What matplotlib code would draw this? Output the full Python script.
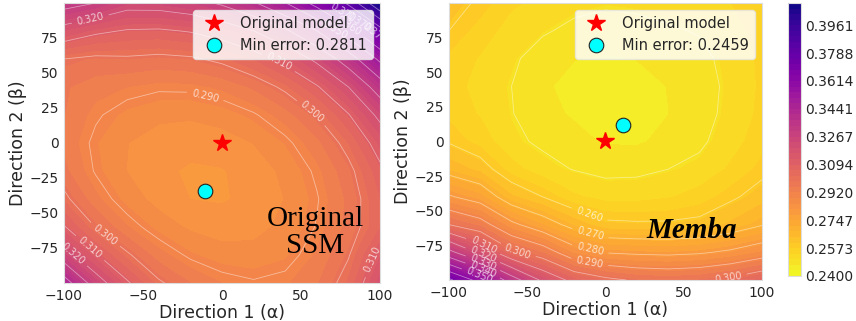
import numpy as np
import matplotlib
import matplotlib.pyplot as plt

matplotlib.use("Agg")

# grid of the two perturbation directions
alpha_vals = [-100, -80, -60, -40, -20, 0, 20, 40, 60, 80, 100]
beta_vals = [-100, -80, -60, -40, -20, 0, 20, 40, 60, 80, 100]

# error surface, one row per beta (bottom to top), one column per alpha
loss_ssm = [
    [0.3448, 0.3250, 0.3110, 0.3010, 0.2955, 0.2920, 0.2905, 0.2915, 0.2950, 0.3030, 0.3180],
    [0.3245, 0.3108, 0.3010, 0.2935, 0.2890, 0.2868, 0.2865, 0.2880, 0.2925, 0.2995, 0.3125],
    [0.3106, 0.2998, 0.2923, 0.2873, 0.2844, 0.2832, 0.2838, 0.2861, 0.2903, 0.2966, 0.3056],
    [0.3016, 0.2930, 0.2872, 0.2836, 0.2816, 0.2813, 0.2825, 0.2852, 0.2896, 0.2963, 0.3057],
    [0.2965, 0.2895, 0.2850, 0.2823, 0.2812, 0.2814, 0.2830, 0.2860, 0.2909, 0.2981, 0.3083],
    [0.2946, 0.2888, 0.2852, 0.2832, 0.2826, 0.2832, 0.2852, 0.2887, 0.2943, 0.3024, 0.3137],
    [0.2956, 0.2907, 0.2876, 0.2860, 0.2857, 0.2868, 0.2894, 0.2937, 0.3002, 0.3095, 0.3223],
    [0.2960, 0.2935, 0.2920, 0.2908, 0.2910, 0.2927, 0.2961, 0.3014, 0.3092, 0.3200, 0.3347],
    [0.3000, 0.2985, 0.2990, 0.2982, 0.2990, 0.3015, 0.3060, 0.3126, 0.3220, 0.3349, 0.3520],
    [0.3160, 0.3116, 0.3093, 0.3089, 0.3105, 0.3141, 0.3199, 0.3283, 0.3398, 0.3551, 0.3751],
    [0.3340, 0.3300, 0.3237, 0.3240, 0.3265, 0.3314, 0.3390, 0.3496, 0.3637, 0.3820, 0.4098],
]

loss_memba = [
    [0.3720, 0.3560, 0.3350, 0.3180, 0.3070, 0.3020, 0.2990, 0.2980, 0.2990, 0.3020, 0.3070],
    [0.3330, 0.3180, 0.3020, 0.2950, 0.2840, 0.2795, 0.2785, 0.2780, 0.2790, 0.2815, 0.2855],
    [0.3000, 0.2940, 0.2820, 0.2745, 0.2670, 0.2615, 0.2610, 0.2610, 0.2618, 0.2650, 0.2695],
    [0.2810, 0.2760, 0.2650, 0.2600, 0.2545, 0.2525, 0.2525, 0.2535, 0.2555, 0.2590, 0.2625],
    [0.2670, 0.2630, 0.2555, 0.2515, 0.2498, 0.2488, 0.2490, 0.2500, 0.2512, 0.2545, 0.2585],
    [0.2595, 0.2560, 0.2510, 0.2492, 0.2476, 0.2467, 0.2466, 0.2476, 0.2492, 0.2522, 0.2560],
    [0.2565, 0.2535, 0.2502, 0.2475, 0.2467, 0.2461, 0.2459, 0.2469, 0.2483, 0.2513, 0.2548],
    [0.2555, 0.2525, 0.2500, 0.2472, 0.2464, 0.2460, 0.2461, 0.2470, 0.2482, 0.2510, 0.2545],
    [0.2565, 0.2535, 0.2508, 0.2480, 0.2470, 0.2467, 0.2470, 0.2478, 0.2490, 0.2512, 0.2547],
    [0.2600, 0.2558, 0.2522, 0.2505, 0.2490, 0.2485, 0.2488, 0.2495, 0.2503, 0.2522, 0.2555],
    [0.2625, 0.2590, 0.2545, 0.2528, 0.2512, 0.2505, 0.2508, 0.2515, 0.2522, 0.2538, 0.2570],
]

origin = (0, 0)
ssm_min = (-11, -34, 0.2811)
memba_min = (11, 12, 0.2459)

# where the contour labels sit in the reference
ssm_label_spots = [(-11, 32), (56, 21), (35, 56), (70, 78), (78, 80), (84, 82), (95, 78),
                   (76, 92), (-84, 92), (-77, -70), (-85, -77), (-96, -81), (92, -82)]
memba_label_spots = [(-11, -55), (-10, -68), (-10, -79), (-10, -87), (-56, -79), (-78, -75),
                     (-78, -81), (-78, -87), (-78, -92), (-80, -95), (78, -94)]

vmin, vmax = 0.24, 0.41
levels = np.linspace(vmin, vmax, 50)
line_levels = np.arange(0.25, 0.405, 0.01)

TXT = "#262626"


def draw_panel(ax, loss, min_pt, spots):
    X, Y = np.meshgrid(alpha_vals, beta_vals)
    Z = np.array(loss)
    cf = ax.contourf(X, Y, Z, levels=levels, cmap="plasma_r", vmin=vmin, vmax=vmax)
    cs = ax.contour(X, Y, Z, levels=line_levels, colors="white", linewidths=0.6, alpha=0.45)
    labels = ax.clabel(cs, inline=True, fontsize=7, fmt="%.3f", colors="white", manual=spots)
    for t in labels:
        t.set_alpha(0.7)

    ax.plot(*origin, marker="*", linestyle="none", color="red", markersize=13,
            label="Original model", zorder=5)
    ax.plot(min_pt[0], min_pt[1], marker="o", linestyle="none", markerfacecolor="cyan",
            markeredgecolor="#222222", markeredgewidth=0.8, markersize=10.5,
            label=f"Min error: {min_pt[2]:.4f}", zorder=5)

    ax.set_xlim(-100, 100)
    ax.set_ylim(-100, 100)
    ax.set_xticks([-100, -50, 0, 50, 100])
    ax.set_yticks([-75, -50, -25, 0, 25, 50, 75])
    ax.tick_params(length=0, labelsize=10, labelcolor=TXT, pad=4)
    ax.set_xlabel("Direction 1 (α)", fontsize=12.5, color=TXT, labelpad=1)
    ax.set_ylabel("Direction 2 (β)", fontsize=12.5, color=TXT, labelpad=2)
    for s in ax.spines.values():
        s.set_color("#dddddd")
        s.set_linewidth(0.8)
    leg = ax.legend(loc="upper right", fontsize=10.5, framealpha=0.82, edgecolor="#e6e6e6",
                    fancybox=True)
    for t in leg.get_texts():
        t.set_color(TXT)
    return cf


fig = plt.figure(figsize=(8.56, 3.21), dpi=100)
ax1 = fig.add_axes([0.0748, 0.1184, 0.3692, 0.8723])
ax2 = fig.add_axes([0.5245, 0.1277, 0.3657, 0.8630])
cax = fig.add_axes([0.9206, 0.1402, 0.0152, 0.8505])

draw_panel(ax1, loss_ssm, ssm_min, ssm_label_spots)
cf = draw_panel(ax2, loss_memba, memba_min, memba_label_spots)

ax1.text(59, -64, "Original\nSSM", fontsize=21, family="Liberation Serif",
         ha="center", va="center", linespacing=1.05, color="black", zorder=6)
ax2.text(55, -64, "Memba", fontsize=21, family="Liberation Serif", fontweight="bold",
         fontstyle="italic", ha="center", va="center", color="black", zorder=6)

cb = fig.colorbar(cf, cax=cax, ticks=levels[::5])
cb.ax.set_yticklabels([f"{v:.4f}" for v in levels[::5]])
cb.ax.tick_params(length=0, labelsize=10, labelcolor=TXT, pad=3)
cb.outline.set_edgecolor("#dddddd")
cb.outline.set_linewidth(0.8)

plt.savefig("out.png", dpi=100)
